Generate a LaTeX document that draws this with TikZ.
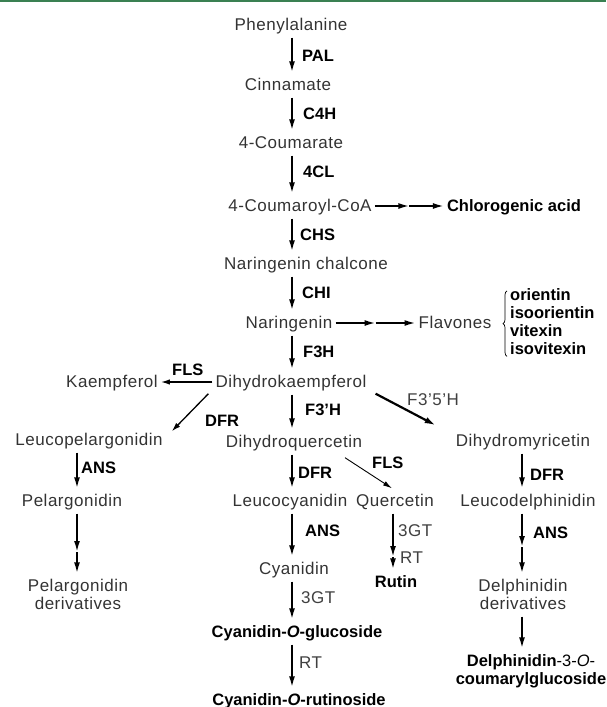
\documentclass[tikz,border=0pt]{standalone}
\usepackage{fontspec}
\setmainfont{Liberation Sans}
\usetikzlibrary{arrows.meta,calc,decorations.pathreplacing}
\definecolor{topgreen}{RGB}{58,128,82}
\begin{document}
\begin{tikzpicture}[x=1pt,y=-1pt,
 cmp/.style={anchor=base, inner xsep=3pt, inner ysep=4.5pt, text height=13pt, text depth=3pt, text=black!80, font=\fontsize{17}{18}\selectfont\addfontfeature{LetterSpace=3}},
 bcmp/.style={anchor=base, inner xsep=3pt, inner ysep=4.5pt, text height=13pt, text depth=3pt, text=black, font=\fontsize{16.5}{18}\selectfont\bfseries},
 enz/.style={anchor=base west, inner sep=0pt, text=black, font=\fontsize{16.5}{18}\selectfont\bfseries},
 genz/.style={anchor=base west, inner sep=0pt, text=black!75, font=\fontsize{17}{18}\selectfont\addfontfeature{LetterSpace=3}},
 arr/.style={line width=1.8pt, -{Latex[length=11pt,width=6pt]}},
 arrL/.style={line width=1.3pt, -{Latex[length=9pt,width=5.5pt]}},
 arrT/.style={line width=2.2pt, -{Latex[length=11pt,width=6.5pt]}},
 arrThin/.style={line width=0.9pt, -{Latex[length=9pt,width=5pt]}},
 bracestyle/.style={line width=0.7pt, decorate, decoration={brace, amplitude=4pt}}
]
\useasboundingbox (0,0) rectangle (606,707);
\fill[topgreen] (0,0) rectangle (606,2.2);

% column positions
\coordinate (mc) at (292,0);
\coordinate (lc) at (77,0);
\coordinate (rc) at (522,0);
\coordinate (qc) at (393,0);

% compounds
\node[cmp] (phe) at (291,30) {Phenylalanine};
\node[cmp] (cin) at (288,90) {Cinnamate};
\node[cmp] (cou) at (291,148) {4-Coumarate};
\node[cmp] (coa) at (300,211) {4-Coumaroyl-CoA};
\node[bcmp] (chl) at (514,211) {Chlorogenic acid};
\node[cmp] (nch) at (306,269) {Naringenin chalcone};
\node[cmp] (nar) at (289,328) {Naringenin};
\node[cmp] (fla) at (455,328) {Flavones};
\node[enz] (ori) at (510,300) {orientin};
\node[enz] (iso) at (510,318) {isoorientin};
\node[enz] (vit) at (510,336) {vitexin};
\node[enz] (isv) at (510,354) {isovitexin};
\node[cmp] (dhk) at (291,387) {Dihydrokaempferol};
\node[cmp] (kae) at (112,387) {Kaempferol};
\node[cmp] (lpg) at (89,445) {Leucopelargonidin};
\node[cmp] (dhq) at (294,447) {Dihydroquercetin};
\node[cmp] (dhm) at (523,446) {Dihydromyricetin};
\node[cmp] (pel) at (72,506) {Pelargonidin};
\node[cmp] (lcy) at (290,506) {Leucocyanidin};
\node[cmp] (que) at (395,506) {Quercetin};
\node[cmp] (ldp) at (528,506) {Leucodelphinidin};
\node[bcmp] (rut) at (396,587) {Rutin};
\node[cmp] (cya) at (294,574) {Cyanidin};
\node[cmp] (pd1) at (78,591) {Pelargonidin};
\node[cmp] (pd2) at (78,609) {derivatives};
\node[cmp] (dd1) at (523,591) {Delphinidin};
\node[cmp] (dd2) at (523,609) {derivatives};
\node[bcmp] (cyg) at (297,637) {Cyanidin-\textit{O}-glucoside};
\node[bcmp] (cyr) at (299,705) {Cyanidin-\textit{O}-rutinoside};
\node[bcmp] (dg1) at (531,666) {Delphinidin{\mdseries-3-\textit{O}-}};
\node[bcmp] (dg2) at (531,684) {coumarylglucoside};

% enzyme labels
\node[enz] (lpal) at (302,61) {PAL};
\node[enz] (lc4h) at (303,119) {C4H};
\node[enz] (l4cl) at (303,177) {4CL};
\node[enz] (lchs) at (300,240) {CHS};
\node[enz] (lchi) at (302,298) {CHI};
\node[enz] (lf3h) at (303,357) {F3H};
\node[enz] (lf3p) at (305,415) {F3'H};
\node[enz] (ldfr) at (298,478) {DFR};
\node[enz] (lans) at (305,536) {ANS};
\node[genz] (l3gt) at (301,603) {3GT};
\node[genz] (lrt) at (299,668) {RT};
\node[enz] (lfls) at (172,375) {FLS};
\node[enz] (ldfrl) at (205,426) {DFR};
\node[enz] (lansl) at (81,473) {ANS};
\node[genz] (lf35) at (407,405) {F3'5'H};
\node[enz] (lflsm) at (372,468) {FLS};
\node[enz] (ldfrr) at (530,480) {DFR};
\node[enz] (lansr) at (533,538) {ANS};
\node[genz] (l3gtq) at (398,536) {3GT};
\node[genz] (lrtq) at (400,563) {RT};

% main column
\draw[arr] (phe.south -| mc) -- (cin.north -| mc);
\draw[arr] (cin.south -| mc) -- (cou.north -| mc);
\draw[arr] (cou.south -| mc) -- (coa.north -| mc);
\draw[arr] (coa.south -| mc) -- (nch.north -| mc);
\draw[arr] (nch.south -| mc) -- (nar.north -| mc);
\draw[arr] (nar.south -| mc) -- (dhk.north -| mc);
\draw[arr] (dhk.south -| mc) -- (dhq.north -| mc);
\draw[arr] (dhq.south -| mc) -- (lcy.north -| mc);
\draw[arr] (lcy.south -| mc) -- (cya.north -| mc);
\draw[arr] (cya.south -| mc) -- (cyg.north -| mc);
\draw[arr] (cyg.south -| mc) -- (cyr.north -| mc);

% side branches with double heads
\coordinate (m1) at ($(coa.east)!0.5!(chl.west)$);
\draw[arr] (coa.east) -- (m1);
\draw[arr] (m1) -- (chl.west);
\coordinate (m2) at ($(nar.east)!0.5!(fla.west)$);
\draw[arr] (nar.east) -- (m2);
\draw[arr] (m2) -- (fla.west);

\draw[bracestyle] ($(isv.south west)+(-3,2)$) -- ($(ori.north west)+(-3,3)$);

% left branch
\draw[arrL] (dhk.west) -- (kae.east);
\draw[arrL] ($(dhk.south west)+(-4,-1)$) -- ($(lpg.north east)+(6,4)$);
\draw[arr] (lpg.south -| lc) -- (pel.north -| lc);
\coordinate (pm) at (77,552);
\draw[arr] (pel.south -| lc) -- (pm);
\draw[arr] (pm) -- (pd1.north -| lc);

% right branch
\draw[arrT] ($(dhk.south east)+(6,-1)$) -- ($(dhm.north west)+(-17,-3)$);
\draw[arr] (dhm.south -| rc) -- (ldp.north -| rc);
\coordinate (rm) at (522,547);
\draw[arr] (ldp.south -| rc) -- (rm);
\draw[arr] (rm) -- (dd1.north -| rc);
\draw[arr] (dd2.south -| rc) -- (dg1.north -| rc);

% quercetin branch
\draw[arrThin] ($(dhq.south)+(51,3)$) -- ($(que.north)+(-3,0)$);
\coordinate (qm) at (393,557);
\draw[arr] (que.south -| qc) -- (qm);
\draw[arr] (qm) -- (rut.north -| qc);
\end{tikzpicture}
\end{document}
